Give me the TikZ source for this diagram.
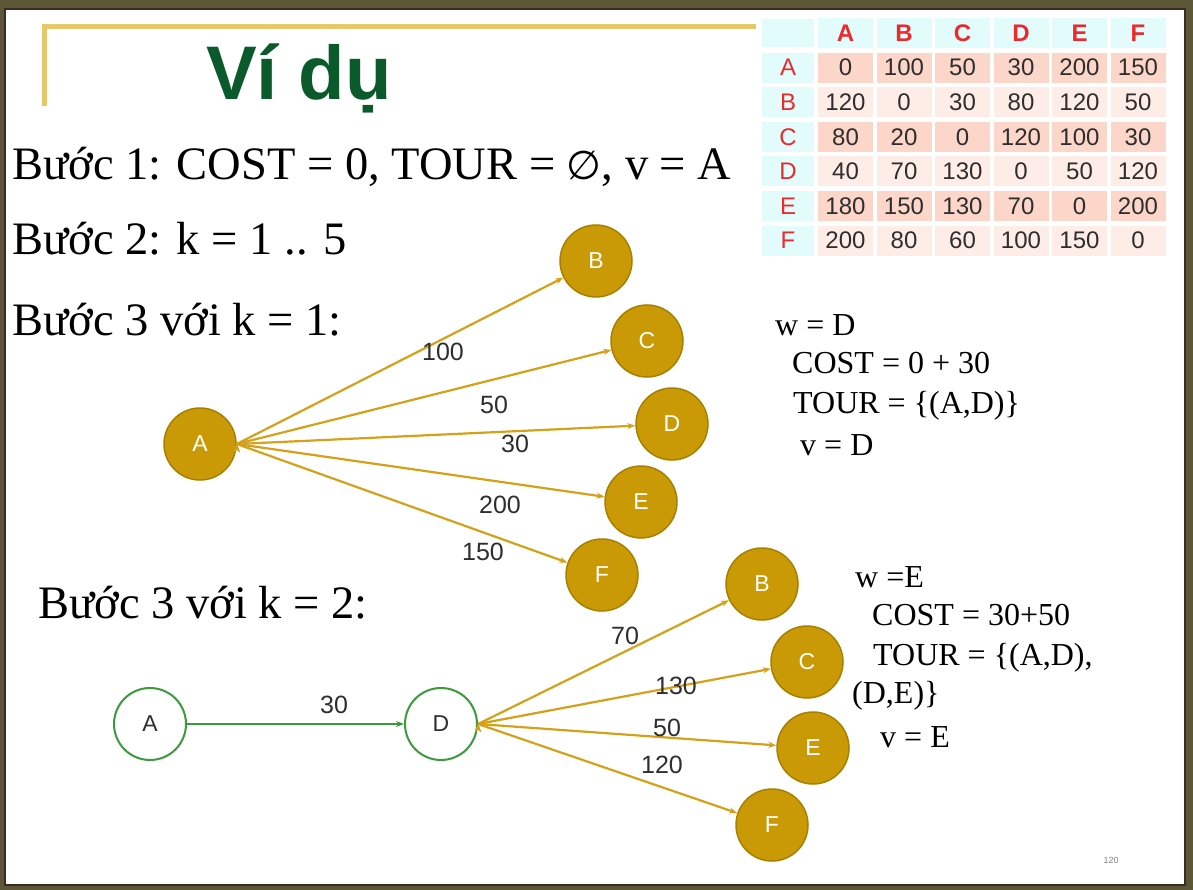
\documentclass[tikz,border=0pt]{standalone}
\usepackage{fontspec}
\setmainfont{Liberation Serif}
\setsansfont{Liberation Sans}
\newfontfamily\symbolfont{DejaVu Sans}
\usetikzlibrary{arrows.meta}
\definecolor{frameolive}{HTML}{5A5636}
\definecolor{framedark}{HTML}{3B2B22}
\definecolor{rulegold}{HTML}{E6C76A}
\definecolor{titlegreen}{HTML}{0B5A2C}
\definecolor{goldfill}{HTML}{C99A06}
\definecolor{golddraw}{HTML}{A88000}
\definecolor{goldline}{HTML}{D4A118}
\definecolor{pathgreen}{HTML}{3C9A3C}
\definecolor{cellcyan}{HTML}{E2FBFB}
\definecolor{celldeep}{HTML}{FDD6CA}
\definecolor{cellpale}{HTML}{FEEDE7}
\definecolor{headred}{HTML}{EC2A2E}
\definecolor{numgray}{HTML}{2E2E2E}
\begin{document}
\begin{tikzpicture}[x=1pt, y=-1pt,
    city/.style={circle, draw=golddraw, fill=goldfill, line width=1.5pt, minimum size=72pt, inner sep=0pt, text=white, font=\sffamily\fontsize{23}{23}\selectfont},
    done/.style={circle, draw=pathgreen, fill=white, line width=2pt, minimum size=72pt, inner sep=0pt, text=numgray, font=\sffamily\fontsize{23}{23}\selectfont},
    arc/.style={draw=goldline, line width=2.2pt, -{Stealth[length=8pt, width=6pt]}},
    chosen/.style={draw=pathgreen, line width=2.5pt, -{Stealth[length=8pt, width=6pt]}},
    weight/.style={text=numgray, inner sep=0pt, font=\sffamily\fontsize{25}{25}\selectfont},
    stepline/.style={anchor=base west, inner sep=0pt, font=\fontsize{46.5}{50}\selectfont},
    note/.style={anchor=base west, inner sep=0pt, font=\fontsize{32}{34}\selectfont},
    cell/.style={minimum width=55pt, minimum height=30pt, inner sep=0pt, font=\sffamily\fontsize{24}{24}\selectfont}]
  % frame
  \fill[frameolive] (0,0) rectangle (1193,890);
  \fill[white, draw=framedark, line width=1.5pt] (5,9) rectangle (1185,885);
  \useasboundingbox (0,0) rectangle (1193,890);
  \draw[rulegold, line width=5pt] (44,106) -- (44,27) -- (756,27);
  \node (title) [anchor=base, inner sep=0pt, text=titlegreen, font=\sffamily\bfseries\fontsize{76}{76}\selectfont] at (299,100) {Ví dụ};

  % cost table
  \foreach \name [count=\j] in {A,B,C,D,E,F}
    \node (h\name) [cell, fill=cellcyan, text=headred, font=\sffamily\bfseries\fontsize{24}{24}\selectfont] at (787+58.5*\j,33) {\name};
  \node (corner) [cell, fill=cellcyan, minimum width=52pt, minimum height=28pt] at (788,33) {};
  \foreach \row [count=\i] in {{A,0,100,50,30,200,150},{B,120,0,30,80,120,50},{C,80,20,0,120,100,30},{D,40,70,130,0,50,120},{E,180,150,130,70,0,200},{F,200,80,60,100,150,0}} {
    \pgfmathsetmacro{\yy}{33+34.6*\i}
    \pgfmathparse{isodd(\i) ? "celldeep" : "cellpale"}\let\shade\pgfmathresult
    \foreach \v [count=\j from 0] in \row {
      \ifnum\j=0
        \node (r\i) [cell, fill=cellcyan, text=headred, minimum width=52pt] at (788,\yy) {\v};
      \else
        \node (c\i\j) [cell, fill=\shade, text=numgray] at (787+58.5*\j,\yy) {\v};
      \fi
    }
  }

  % steps
  \node (s1) [stepline] at (12,180) {Bước 1: COST = 0, TOUR = {\symbolfont\fontsize{40}{40}\selectfont ∅}, v = A};
  \node (s2) [stepline] at (12,255) {Bước 2: k = 1 .. 5};
  \node (s3) [stepline] at (12,335) {Bước 3 với k = 1:};
  \node (s4) [stepline] at (38,618) {Bước 3 với k = 2:};

  % k = 1
  \node (a1) [city] at (200,444) {A};
  \node (b1) [city] at (596,261) {B};
  \node (c1) [city] at (647,341) {C};
  \node (d1) [city] at (672,424) {D};
  \node (e1) [city] at (641,502) {E};
  \node (f1) [city] at (602,575) {F};
  \foreach \dest/\lx/\ly/\w in {b1/443/352/100, c1/494/405/50, d1/515/444/30, e1/500/505/200, f1/483/552/150} {
    \path[arc] (a1.east) edge (\dest);
    \node (w\dest) [weight] at (\lx,\ly) {\w};
  }
  \node (n1) [note] at (775,335) {w = D};
  \node (n2) [note] at (792,373) {COST = 0 + 30};
  \node (n3) [note] at (793,413) {TOUR = \{(A,D)\}};
  \node (n4) [note] at (800,455) {v = D};

  % k = 2
  \node (a2) [done] at (150,724) {A};
  \node (d2) [done] at (441,724) {D};
  \node (b2) [city] at (762,584) {B};
  \node (c2) [city] at (807,662) {C};
  \node (e2) [city] at (813,748) {E};
  \node (f2) [city] at (772,825) {F};
  \path[chosen] (a2) edge (d2);
  \node (wd2) [weight] at (334,705) {30};
  \foreach \dest/\lx/\ly/\w in {b2/625/636/70, c2/676/686/130, e2/667/728/50, f2/662/765/120} {
    \path[arc] (d2.east) edge (\dest);
    \node (w\dest) [weight] at (\lx,\ly) {\w};
  }
  \node (m1) [note] at (855,587) {w =E};
  \node (m2) [note] at (872,625) {COST = 30+50};
  \node (m3) [note] at (873,665) {TOUR = \{(A,D),};
  \node (m4) [note] at (852,703) {(D,E)\}};
  \node (m5) [note] at (880,747) {v = E};

  \node (page) [text=gray, font=\sffamily\fontsize{9}{9}\selectfont] at (1111,860) {120};
\end{tikzpicture}
\end{document}
